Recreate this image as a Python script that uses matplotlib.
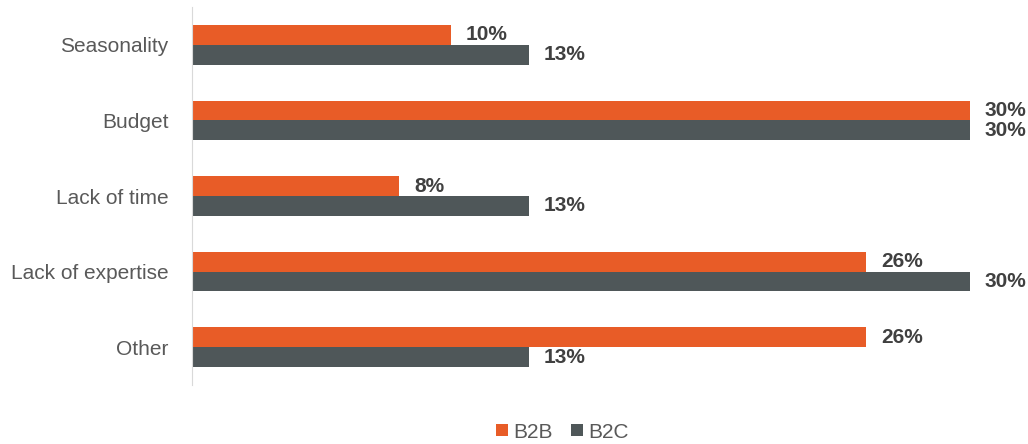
import numpy as np
import matplotlib.pyplot as plt

plt.rcParams['font.family'] = ['Liberation Sans', 'DejaVu Sans']

categories = ['Seasonality', 'Budget', 'Lack of time', 'Lack of expertise', 'Other']
b2b = [10, 30, 8, 26, 26]
b2c = [13, 30, 13, 30, 13]

orange = '#E85C27'
grey = '#4F5759'

fig = plt.figure(figsize=(10.28, 4.44), dpi=100)
ax = fig.add_axes([0.1868, 0.1329, 0.7568, 0.8513])

y = np.arange(len(categories))
h = 0.263
bars1 = ax.barh(y - h / 2, b2b, height=h, color=orange, label='B2B')
bars2 = ax.barh(y + h / 2, b2c, height=h, color=grey, label='B2C')

# percentage labels just past the end of each bar
for bars, vals in [(bars1, b2b), (bars2, b2c)]:
    for b, v in zip(bars, vals):
        ax.annotate(f'{v}%', (b.get_width(), b.get_y() + b.get_height() / 2),
                    xytext=(10.5, 0), textcoords='offset points',
                    ha='left', va='center', fontsize=15, fontweight='bold',
                    color='#404040', annotation_clip=False)

ax.set_xlim(0, 30)
ax.set_ylim(len(categories) - 0.5, -0.5)
ax.set_yticks(y)
ax.set_yticklabels(categories, fontsize=15, color='#595959')
ax.tick_params(axis='y', length=0, pad=17)
ax.set_xticks([])
for s in ['top', 'right', 'bottom']:
    ax.spines[s].set_visible(False)
ax.spines['left'].set_color('#D9D9D9')

fig.legend(loc='center', bbox_to_anchor=(0.547, 0.027), ncol=2, frameon=False,
           fontsize=15, labelcolor='#595959', handlelength=0.55, handleheight=0.55,
           handletextpad=0.25, columnspacing=0.9)

fig.savefig('out.png', dpi=100)
